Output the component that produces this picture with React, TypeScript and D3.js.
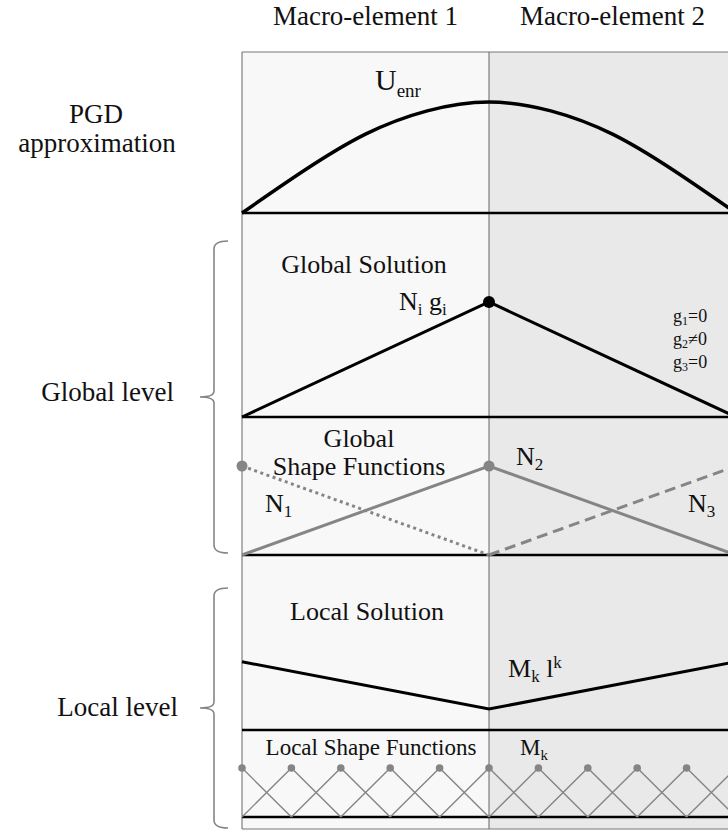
import React from 'react';
import * as d3 from 'd3';

// header + row labels
const macroLabels = ['Macro-element 1', 'Macro-element 2'];
const macroCentres = [0.5, 1.5];

// enriched PGD mode U_enr
const enrX = [0, 0.25, 0.5, 0.75, 1, 1.25, 1.5, 1.75, 2];
const enrU = [0, 0.38, 0.71, 0.92, 1, 0.92, 0.71, 0.38, 0];

// global level: nodes, nodal values g_i and shape functions
const globalNodes = [0, 1, 2];
const globalG = [0, 1, 0];
const shapeN1 = [1, 0, 0];
const shapeN2 = [0, 1, 0];
const shapeN3 = [0, 0, 1];
const gLabels = [
  { g: '1', rel: '=0' },
  { g: '2', rel: '≠0' },
  { g: '3', rel: '=0' },
];

// local level: solution and fine nodes
const localSolution = [0.39, 0.12, 0.39];
const localNodes = [0, 0.2, 0.4, 0.6, 0.8, 1, 1.2, 1.4, 1.6, 1.8, 2];

const W = 728;
const H = 833;
const FONT = "'Liberation Serif', 'DejaVu Serif', serif";
const GREY = '#858585';

const x = d3.scaleLinear().domain([0, 2]).range([242, 736]);

// one y scale per strip: 0 at the strip baseline, 1 at the peak
const yPgd = d3.scaleLinear().domain([0, 1]).range([213, 102]);
const yGlob = d3.scaleLinear().domain([0, 1]).range([417, 302]);
const yShape = d3.scaleLinear().domain([0, 1]).range([555, 466]);
const yLoc = d3.scaleLinear().domain([0, 1]).range([730, 555]);
const yHat = d3.scaleLinear().domain([0, 1]).range([817, 768]);

const strips = [213, 417, 555, 730, 817];

type P = [number, number];

function lineFor(ys: d3.ScaleLinear<number, number>, curve = d3.curveLinear) {
  return d3
    .line<P>()
    .x(d => x(d[0]))
    .y(d => ys(d[1]))
    .curve(curve);
}

function zip(xs: number[], vs: number[]): P[] {
  return xs.map((v, i) => [v, vs[i]] as P);
}

// keep only the support of a hat function (nonzero value or a nonzero neighbour)
function support(xs: number[], vs: number[]): P[] {
  return zip(xs, vs).filter(
    (_, i) => vs[i] !== 0 || vs[i - 1] > 0 || vs[i + 1] > 0
  );
}

function brace(x0: number, top: number, bottom: number) {
  const mid = (top + bottom) / 2;
  const bx = x0 + 14;
  const ex = x0 + 28;
  return `M${ex},${top} Q${bx},${top} ${bx},${top + 8} L${bx},${mid - 6} Q${bx},${mid} ${x0},${mid} Q${bx},${mid} ${bx},${mid + 6} L${bx},${bottom - 8} Q${bx},${bottom} ${ex},${bottom}`;
}

const App: React.FC = () => {
  const pgdLine = lineFor(yPgd, d3.curveNatural)(zip(enrX, enrU)) || '';
  const globLine = lineFor(yGlob)(zip(globalNodes, globalG)) || '';
  const n1 = lineFor(yShape)(support(globalNodes, shapeN1)) || '';
  const n2 = lineFor(yShape)(support(globalNodes, shapeN2)) || '';
  const n3 = lineFor(yShape)(support(globalNodes, shapeN3)) || '';
  const locLine = lineFor(yLoc)(zip(globalNodes, localSolution)) || '';
  const hat = lineFor(yHat);

  const hats = localNodes.map((n, i) => {
    const pts: P[] = [];
    if (i > 0) pts.push([localNodes[i - 1], 0]);
    pts.push([n, 1]);
    if (i < localNodes.length - 1) pts.push([localNodes[i + 1], 0]);
    return hat(pts) || '';
  });

  return (
    <svg
      width={W}
      height={H}
      style={{ position: 'absolute', left: 0, top: 0, background: '#fff', fontFamily: FONT }}
      fill="#111"
    >
      {/* macro-element backgrounds */}
      <rect x={x(0)} y={52} width={x(1) - x(0)} height={829 - 52} fill="#f8f8f8" />
      <rect x={x(1)} y={52} width={x(2) - x(1)} height={829 - 52} fill="#e9e9e9" />
      <line x1={x(0)} x2={x(2)} y1={52} y2={52} stroke="#777" strokeWidth={1} />
      <line x1={x(0)} x2={x(2)} y1={829} y2={829} stroke="#777" strokeWidth={1} />
      {[0, 1].map(v => (
        <line key={v} x1={x(v)} x2={x(v)} y1={52} y2={829} stroke="#666" strokeWidth={1} />
      ))}

      {/* strip baselines */}
      {strips.map(s => (
        <line key={s} x1={x(0)} x2={x(2)} y1={s} y2={s} stroke="#000" strokeWidth={2.5} />
      ))}

      {/* headers */}
      {macroLabels.map((l, i) => (
        <text key={l} x={x(macroCentres[i])} y={25} textAnchor="middle" fontSize={27}>
          {l}
        </text>
      ))}

      {/* left row labels */}
      <text x={96} y={123} textAnchor="middle" fontSize={27}>PGD</text>
      <text x={97} y={152} textAnchor="middle" fontSize={27}>approximation</text>
      <text x={174} y={401} textAnchor="end" fontSize={27}>Global level</text>
      <text x={178} y={716} textAnchor="end" fontSize={27}>Local level</text>
      <path d={brace(200, 241, 553)} fill="none" stroke={GREY} strokeWidth={1.6} />
      <path d={brace(200, 588, 828)} fill="none" stroke={GREY} strokeWidth={1.6} />

      {/* PGD approximation */}
      <path d={pgdLine} fill="none" stroke="#000" strokeWidth={3.5} />
      <text x={375} y={90} fontSize={30}>
        U<tspan dy={7} fontSize={19}>enr</tspan>
      </text>

      {/* global solution */}
      <text x={364} y={273} textAnchor="middle" fontSize={26}>Global Solution</text>
      <path d={globLine} fill="none" stroke="#000" strokeWidth={3} />
      <circle cx={x(1)} cy={yGlob(1)} r={6} fill="#000" />
      <text x={399} y={310} fontSize={26}>
        N<tspan dy={5} fontSize={17}>i</tspan>
        <tspan dy={-5}> g</tspan>
        <tspan dy={5} fontSize={17}>i</tspan>
      </text>
      {gLabels.map((g, i) => (
        <text key={g.g} x={673} y={322 + i * 23} fontSize={18}>
          g<tspan dy={3} fontSize={12}>{g.g}</tspan>
          <tspan dy={-3}>{g.rel}</tspan>
        </text>
      ))}

      {/* global shape functions */}
      <path d={n1} fill="none" stroke={GREY} strokeWidth={3} strokeDasharray="3,3.5" />
      <path d={n2} fill="none" stroke={GREY} strokeWidth={3} />
      <path d={n3} fill="none" stroke={GREY} strokeWidth={3} strokeDasharray="11,6" />
      {globalNodes.map(n => (
        <circle key={n} cx={x(n)} cy={yShape(1)} r={5.5} fill={GREY} />
      ))}
      <text x={359} y={447} textAnchor="middle" fontSize={26}>Global</text>
      <text x={359} y={475} textAnchor="middle" fontSize={26}>Shape Functions</text>
      <text x={265} y={512} fontSize={26}>
        N<tspan dy={5} fontSize={17}>1</tspan>
      </text>
      <text x={516} y={465} fontSize={26}>
        N<tspan dy={5} fontSize={17}>2</tspan>
      </text>
      <text x={688} y={512} fontSize={26}>
        N<tspan dy={5} fontSize={17}>3</tspan>
      </text>

      {/* local solution */}
      <text x={367} y={620} textAnchor="middle" fontSize={26}>Local Solution</text>
      <path d={locLine} fill="none" stroke="#000" strokeWidth={3} />
      <text x={508} y={677} fontSize={26}>
        M<tspan dy={5} fontSize={17}>k</tspan>
        <tspan dy={-5}> l</tspan>
        <tspan dy={-9} fontSize={17}>k</tspan>
      </text>

      {/* local shape functions */}
      {hats.map((d, i) => (
        <path key={i} d={d} fill="none" stroke={GREY} strokeWidth={1.4} />
      ))}
      {localNodes.map(n => (
        <circle key={n} cx={x(n)} cy={yHat(1)} r={3.8} fill={GREY} />
      ))}
      <text x={371} y={755} textAnchor="middle" fontSize={23}>Local Shape Functions</text>
      <text x={520} y={755} fontSize={23}>
        M<tspan dy={5} fontSize={15}>k</tspan>
      </text>
    </svg>
  );
};

export default App;
